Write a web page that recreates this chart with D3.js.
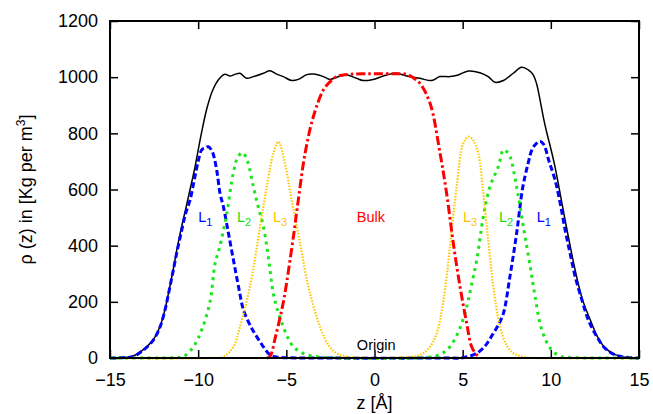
<!DOCTYPE html>
<html>
<head>
<meta charset="utf-8">
<script src="https://cdn.jsdelivr.net/npm/d3@7"></script>
<style>
  html, body { margin: 0; padding: 0; background: #fff; }
  svg { display: block; font-family: "Liberation Sans", Arial, Helvetica, sans-serif; }
</style>
</head>
<body>
<svg id="chart" width="653" height="414"></svg>
<script>
// Density profile across the slab: total, three interfacial layers and the bulk region.
const xTicks = [-15, -10, -5, 0, 5, 10, 15];
const yTicks = [0, 200, 400, 600, 800, 1000, 1200];

// Total density
const totalZ = [-15,-14.5,-14,-13.68,-13.11,-12.54,-12.16,-11.88,-11.64,-11.41,-11.18,-10.93,-10.71,-10.46,-10.18,-10.0,-9.8,-9.5,-9.2,-8.86,-8.48,-8.2,-7.91,-7.63,-7.25,-6.87,-6.3,-5.93,-5.55,-5.17,-4.7,-4.32,-3.84,-3.46,-2.9,-2.53,-2.15,-1.59,-1.02,-0.65,-0.08,0.31,0.69,1.26,1.83,2.58,3.24,3.71,4.28,4.75,5.32,5.98,6.45,6.83,7.31,7.87,8.34,8.72,9.0,9.2,9.4,9.6,9.8,10.0,10.24,10.5,10.81,11.38,11.8,12.32,12.61,13.08,13.64,14.2,14.6,15];
const totalRho = [0,1,3,7,30,66,113,173,244,316,395,470,530,600,680,740,805,890,950,990,1010,1004,1010,1014,996,1002,1014,1023,1011,1002,988,992,1009,1011,1002,992,1000,1008,996,988,992,1000,1008,1014,1004,996,988,1002,1002,1008,1022,1016,1002,982,988,1014,1035,1026,1008,975,915,850,795,745,680,595,491,313,207,123,80,36,12,3,1,0];

// Layer L1 (outermost)
const l1Z = [-15,-14.3,-13.7,-13.11,-12.54,-12.16,-11.88,-11.64,-11.41,-11.18,-10.93,-10.71,-10.46,-10.22,-10.0,-9.8,-9.6,-9.42,-9.2,-8.95,-8.76,-8.57,-8.3,-8.0,-7.7,-7.43,-7.0,-6.68,-6.3,-5.92,-5.5,-5.0,-4.0,4.0,5.0,5.8,6.3,6.74,7.0,7.31,7.68,8.06,8.4,8.7,8.95,9.2,9.39,9.6,9.9,10.24,10.53,10.81,11.09,11.38,11.76,12.13,12.61,13.08,13.64,14.2,15];
const l1Rho = [0,1,5,28,64,111,171,242,313,385,456,515,563,634,700,741,748,752,735,669,586,539,450,349,250,171,110,76,40,11,3,1,0,0,1,17,45,88,115,159,290,444,605,690,745,765,772,760,700,634,551,456,373,290,207,135,76,34,11,3,0];

// Layer L2
const l2Z = [-15,-12,-11.3,-10.84,-10.27,-9.8,-9.33,-9.04,-8.8,-8.39,-8.01,-7.75,-7.48,-7.2,-6.87,-6.6,-6.3,-6.0,-5.74,-5.45,-5.17,-4.9,-4.6,-4.0,-3.2,-2.0,2.5,3.2,3.8,4.28,4.8,5.23,5.5,5.8,6.17,6.55,7.02,7.31,7.5,7.69,8.06,8.44,8.82,9.11,9.49,10.05,10.62,11.5,12,15];
const l2Rho = [0,0,1,5,40,100,200,337,390,510,658,715,731,700,610,540,468,350,230,160,111,70,40,15,4,0,0,4,15,40,100,183,260,349,503,610,681,741,735,717,610,468,330,218,100,28,5,1,0,0];

// Layer L3 (innermost)
const l3Z = [-15,-9.5,-8.57,-8.0,-7.63,-7.06,-6.49,-6.11,-5.74,-5.45,-5.08,-4.7,-4.22,-3.75,-3.09,-2.6,-2.15,-1.4,-0.5,0.5,1.5,2.3,2.77,3.2,3.53,3.9,4.28,4.66,5.04,5.35,5.6,5.89,6.17,6.45,6.74,7.12,7.5,7.87,8.5,9.2,15];
const l3Rho = [0,0,5,40,111,254,468,610,728,770,693,563,408,254,111,45,17,3,0,0,2,6,17,45,88,200,396,610,765,788,775,728,586,420,254,111,45,17,3,0,0];

// Bulk region
const bulkZ = [-6.1,-5.93,-5.6,-5.26,-5.08,-4.6,-4.32,-3.94,-3.47,-2.9,-2.5,-2.14,-1.39,-0.5,0.5,1.2,1.83,2.2,2.58,3.15,3.72,4.09,4.47,4.85,5.23,5.51,5.8,6.0];
const bulkRho = [0,5,80,171,230,432,563,728,859,954,985,1002,1010,1012,1012,1012,1010,998,978,907,728,586,408,254,123,40,11,0];

// Curve labels (anchored at their left edge, in data units)
const labels = [
  { text: "L", sub: "1", z: -10.0, rho: 484, color: "#0000ff" },
  { text: "L", sub: "2", z: -7.8,  rho: 484, color: "#19d919" },
  { text: "L", sub: "3", z: -5.76, rho: 484, color: "#ffc400" },
  { text: "Bulk", sub: "", z: -1.0, rho: 484, color: "#ff0000" },
  { text: "L", sub: "3", z: 5.02,  rho: 484, color: "#ffc400" },
  { text: "L", sub: "2", z: 7.06,  rho: 484, color: "#19d919" },
  { text: "L", sub: "1", z: 9.2,   rho: 484, color: "#0000ff" },
  { text: "Origin", sub: "", z: -1.0, rho: 30, color: "#000000" }
];

const svg = d3.select("#chart");
const margin = { left: 110, right: 14, top: 21, bottom: 56 };
const W = 653, H = 414;
const x = d3.scaleLinear().domain([-15, 15]).range([margin.left, W - margin.right]);
const y = d3.scaleLinear().domain([0, 1200]).range([H - margin.bottom, margin.top]);

const tickFont = 18;

// Axes with inward ticks on all four sides
const gBottom = svg.append("g").attr("transform", `translate(0,${y(0)})`)
  .call(d3.axisBottom(x).tickValues(xTicks).tickSizeInner(-8).tickSizeOuter(0).tickPadding(15)
    .tickFormat(d => d < 0 ? "\u2212" + Math.abs(d) : String(d)));
const gTop = svg.append("g").attr("transform", `translate(0,${y(1200)})`)
  .call(d3.axisTop(x).tickValues(xTicks).tickSizeInner(-8).tickSizeOuter(0).tickFormat(""));
const gLeft = svg.append("g").attr("transform", `translate(${x(-15)},0)`)
  .call(d3.axisLeft(y).tickValues(yTicks).tickSizeInner(-8).tickSizeOuter(0).tickPadding(12)
    .tickFormat(d3.format("d")));
const gRight = svg.append("g").attr("transform", `translate(${x(15)},0)`)
  .call(d3.axisRight(y).tickValues(yTicks).tickSizeInner(-8).tickSizeOuter(0).tickFormat(""));

[gBottom, gTop, gLeft, gRight].forEach(g => {
  g.select(".domain").remove();
  g.selectAll(".tick line").attr("stroke", "#000").attr("stroke-width", 1.5);
  g.selectAll(".tick text").attr("fill", "#000").attr("font-size", tickFont)
    .attr("font-family", "Liberation Sans, Arial, sans-serif");
});

// Series
const series = [
  { z: totalZ, rho: totalRho, color: "#000000", width: 1.5, dash: null },
  { z: l1Z, rho: l1Rho, color: "#0000ff", width: 3, dash: "6,3" },
  { z: l2Z, rho: l2Rho, color: "#19e619", width: 3, dash: "3,4.5" },
  { z: l3Z, rho: l3Rho, color: "#ffc800", width: 2.2, dash: "1.5,1.5" },
  { z: bulkZ, rho: bulkRho, color: "#ff0000", width: 3, dash: "9,3,2.5,3" }
];

const line = d3.line()
  .x(d => x(d[0]))
  .y(d => y(d[1]))
  .curve(d3.curveCatmullRom.alpha(0.5));

const plot = svg.append("g");
series.forEach(s => {
  const pts = s.z.map((z, i) => [z, s.rho[i]]);
  plot.append("path")
    .datum(pts)
    .attr("d", line)
    .attr("fill", "none")
    .attr("stroke", s.color)
    .attr("stroke-width", s.width)
    .attr("stroke-dasharray", s.dash)
    .attr("stroke-linejoin", "round");
});

// Frame
svg.append("rect")
  .attr("x", x(-15)).attr("y", y(1200))
  .attr("width", x(15) - x(-15)).attr("height", y(0) - y(1200))
  .attr("fill", "none").attr("stroke", "#000").attr("stroke-width", 2);

// Curve labels
labels.forEach(l => {
  const t = svg.append("text")
    .attr("x", x(l.z)).attr("y", y(l.rho))
    .attr("fill", l.color)
    .attr("font-size", 14.5)
    .text(l.text);
  if (l.sub) {
    t.append("tspan").attr("dy", 4).attr("font-size", 11).text(l.sub);
  }
});

// Axis titles
svg.append("text")
  .attr("x", x(0)).attr("y", 409)
  .attr("text-anchor", "middle")
  .attr("font-size", 18)
  .attr("fill", "#000")
  .text("z [Å]");

const yTitle = svg.append("text")
  .attr("transform", `translate(32,${(y(0) + y(1200)) / 2}) rotate(-90)`)
  .attr("text-anchor", "middle")
  .attr("font-size", 18)
  .attr("fill", "#000");
yTitle.append("tspan").text("ρ (z) in [Kg per m");
yTitle.append("tspan").attr("dy", -7).attr("font-size", 12).text("3");
yTitle.append("tspan").attr("dy", 7).text("]");
</script>
</body>
</html>
